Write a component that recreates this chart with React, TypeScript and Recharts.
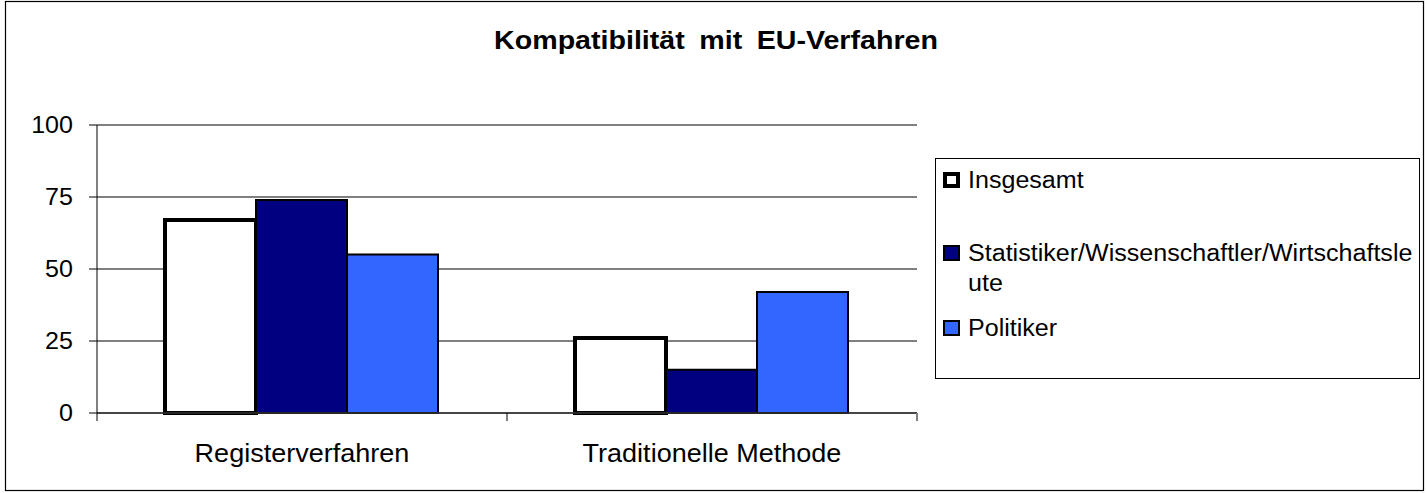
import React from "react";
import { BarChart, Bar, XAxis, YAxis, CartesianGrid, Legend, ReferenceLine } from "recharts";

const title = "Kompatibilität mit EU-Verfahren";
const categories = ["Registerverfahren", "Traditionelle Methode"];
const insgesamt = [67, 26];
const statistiker = [74, 15];
const politiker = [55, 42];
const yTicks = [0, 25, 50, 75, 100];

const series = [
  { key: "insgesamt", name: "Insgesamt", fill: "#ffffff", strokeWidth: 4 },
  { key: "statistiker", name: "Statistiker/Wissenschaftler/Wirtschaftsleute", fill: "#000080", strokeWidth: 2 },
  { key: "politiker", name: "Politiker", fill: "#3366ff", strokeWidth: 2 },
];

const data = categories.map((category, i) => ({
  category,
  insgesamt: insgesamt[i],
  statistiker: statistiker[i],
  politiker: politiker[i],
}));

const FONT = '"Liberation Sans", Arial, sans-serif';
const W = 1427;
const H = 493;

// the original text is slightly stretched horizontally
const stretch = (x: number, sx: number) => `translate(${x} 0) scale(${sx} 1) translate(${-x} 0)`;

const YTick = (props: any) => {
  const { x, y, payload } = props;
  return (
    <text x={x} y={y + 8} textAnchor="end" fontSize={23} fontFamily={FONT} fill="#000" transform={stretch(x, 1.09)}>
      {payload.value}
    </text>
  );
};

const XTick = (props: any) => {
  const { x, y, payload, index } = props;
  const half = payload.offset || 205;
  return (
    <g>
      <line x1={x - half} x2={x - half} y1={y} y2={y + 8} stroke="#000" />
      {index === categories.length - 1 && <line x1={x + half} x2={x + half} y1={y} y2={y + 8} stroke="#808080" strokeWidth={2} />}
      <text x={x} y={y + 49} textAnchor="middle" fontSize={25.5} fontFamily={FONT} fill="#000" transform={stretch(x, 1.06)}>
        {payload.value}
      </text>
    </g>
  );
};

const itemTops = [6, 79, 154];

const renderLegend = () => (
  <div
    style={{
      position: "relative",
      width: 485,
      height: 221,
      boxSizing: "border-box",
      border: "1px solid #000",
      background: "#fff",
      fontFamily: FONT,
    }}
  >
    {series.map((s, i) => (
      <div key={s.key} style={{ position: "absolute", left: 7, top: itemTops[i], display: "flex", alignItems: "flex-start" }}>
        <div
          style={{
            width: 17,
            height: 16,
            marginTop: 7,
            boxSizing: "border-box",
            border: `${i === 0 ? 4 : 2}px solid #000`,
            background: s.fill,
            flexShrink: 0,
          }}
        />
        <span
          style={{
            marginLeft: 8,
            display: "inline-block",
            width: 412,
            fontSize: 23,
            lineHeight: "30px",
            color: "#000",
            wordBreak: "break-all",
            transform: "scaleX(1.09)",
            transformOrigin: "left top",
          }}
        >
          {s.name}
        </span>
      </div>
    ))}
  </div>
);

export default function App() {
  return (
    <div style={{ position: "absolute", left: 0, top: 0, width: W, height: H, background: "#fff" }}>
      <BarChart
        width={W}
        height={H}
        data={data}
        margin={{ top: 125, right: 510, left: 37, bottom: 20 }}
        barCategoryGap={68}
        barGap={0}
      >
        <CartesianGrid horizontal vertical={false} stroke="#000" />
        <XAxis
          dataKey="category"
          tick={<XTick />}
          tickLine={false}
          tickSize={0}
          tickMargin={0}
          height={60}
          axisLine={{ stroke: "#333", strokeWidth: 1.5 }}
          interval={0}
        />
        <YAxis
          domain={[0, 100]}
          ticks={yTicks}
          interval={0}
          width={60}
          tickSize={8}
          tickMargin={16}
          tick={<YTick />}
          tickLine={{ stroke: "#000" }}
          axisLine={{ stroke: "#000" }}
        />
        <YAxis
          yAxisId="r"
          orientation="right"
          domain={[0, 100]}
          width={0}
          tick={false}
          tickLine={false}
          axisLine={{ stroke: "#808080", strokeWidth: 2 }}
        />
        <ReferenceLine y={100} stroke="#808080" strokeWidth={2} />
        {series.map((s) => (
          <Bar
            key={s.key}
            dataKey={s.key}
            name={s.name}
            fill={s.fill}
            stroke="#000"
            strokeWidth={s.strokeWidth}
            isAnimationActive={false}
          />
        ))}
        <Legend
          layout="horizontal"
          verticalAlign="middle"
          align="center"
          content={renderLegend}
          wrapperStyle={{ position: "absolute", left: 935, top: 158, width: 485, height: 221 }}
        />
      </BarChart>
      <svg width={W} height={H} style={{ position: "absolute", left: 0, top: 0, pointerEvents: "none" }}>
        <rect x={5.5} y={1.5} width={1418} height={489} fill="none" stroke="#000" strokeWidth={1.2} />
        <text
          x={716}
          y={49}
          textAnchor="middle"
          fontSize={26}
          fontWeight="bold"
          fontFamily={FONT}
          fill="#000"
          style={{ wordSpacing: 6 }}
          transform={stretch(716, 1.1)}
        >
          {title}
        </text>
      </svg>
    </div>
  );
}
